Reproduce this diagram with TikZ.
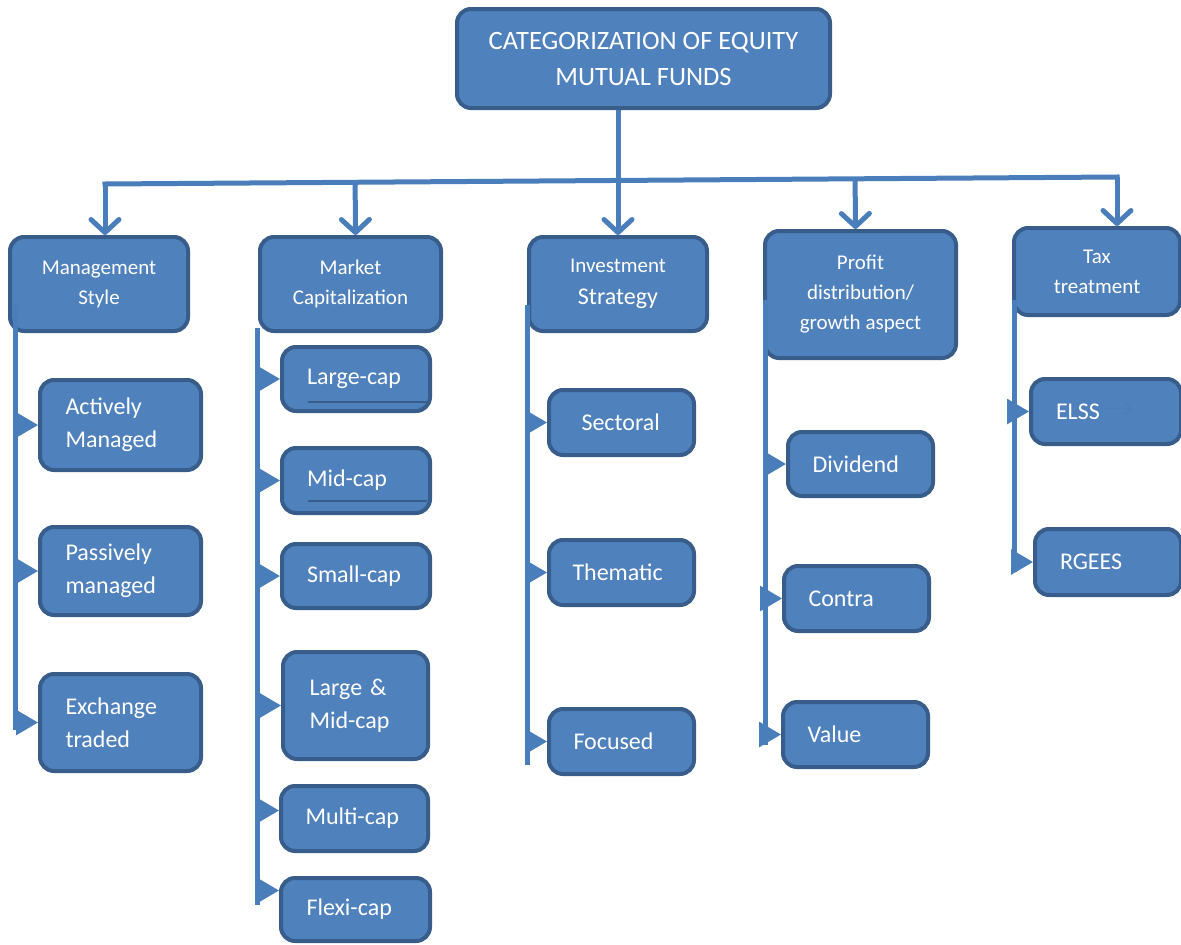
\documentclass[tikz,border=0pt]{standalone}
\usepackage{fontspec}
\setmainfont{Carlito}
\usetikzlibrary{arrows.meta,calc}

\definecolor{boxfill}{HTML}{4F81BD}
\definecolor{boxline}{HTML}{385D8A}
\definecolor{wire}{HTML}{4A7EBB}

\tikzset{
  box/.style={draw=boxline, fill=boxfill, line width=4pt, rounded corners=14pt,
    text=white, inner sep=0pt},
  head/.style={box, align=center, font=\fontsize{21}{30}\selectfont},
  leaf/.style={box, align=left, font=\fontsize{24}{33}\selectfont},
  drop/.style={wire, line width=5pt, -{Straight Barb[length=13pt,width=28pt,round]}},
  spine/.style={wire, line width=5pt},
  tip/.style={wire, line width=3pt, -{Triangle[length=22pt,width=25pt]}},
}

\begin{document}
\begin{tikzpicture}[x=1pt, y=-1pt]
  \useasboundingbox (0,0) rectangle (1181,945);

  % root
  \node[box, align=center, font=\fontsize{26.5}{36}\selectfont,
    minimum width=373pt, minimum height=99pt] (top) at (643.5,58.5)
    {CATEGORIZATION OF EQUITY\\MUTUAL FUNDS};

  % categories
  \node[head, minimum width=178pt, minimum height=94pt] (mgmt) at (99,284)
    {Management\\Style};
  \node[head, minimum width=181pt, minimum height=94pt] (mcap) at (350.5,284)
    {Market\\Capitalization};
  \node[head, minimum width=178pt, minimum height=94pt] (invest) at (618,284)
    {Investment\\[2pt]{\fontsize{24}{30}\selectfont Strategy}};
  \node[head, minimum width=191pt, minimum height=127pt] (profit) at (860.5,294.5)
    {Profit\\distribution/\\growth aspect};
  \node[head, minimum width=166pt, minimum height=87pt] (tax) at (1097,271.5)
    {Tax\\treatment};

  % management style
  \node[leaf, minimum width=161pt, minimum height=90pt, text width=110pt] (active) at (120.5,425)
    {Actively\\Managed};
  \node[leaf, minimum width=161pt, minimum height=88pt, text width=110pt] (passive) at (120.5,571)
    {Passively\\managed};
  \node[leaf, minimum width=161pt, minimum height=97pt, text width=110pt] (exch) at (120.5,722.5)
    {Exchange\\traded};

  % market capitalization
  \node[leaf, minimum width=148pt, minimum height=64pt, text width=98pt] (large) at (356,379)
    {Large-cap};
  \node[leaf, minimum width=148pt, minimum height=65pt, text width=98pt] (mid) at (356,480.5)
    {Mid-cap};
  \node[leaf, minimum width=148pt, minimum height=64pt, text width=98pt] (small) at (356,576)
    {Small-cap};
  \node[leaf, minimum width=145pt, minimum height=107pt, text width=92pt] (lmid) at (355.5,705.5)
    {Large \&\\Mid-cap};
  \node[leaf, minimum width=147pt, minimum height=65pt, text width=98pt] (multi) at (354.5,818.5)
    {Multi-cap};
  \node[leaf, minimum width=149pt, minimum height=63pt, text width=98pt] (flexi) at (355.5,909.5)
    {Flexi-cap};

  % investment strategy
  \node[leaf, minimum width=145pt, minimum height=65pt, text width=80pt] (sect) at (621.5,422.5)
    {Sectoral};
  \node[leaf, minimum width=145pt, minimum height=65pt, text width=98pt] (them) at (621.5,572.5)
    {Thematic};
  \node[leaf, minimum width=145pt, minimum height=65pt, text width=96pt] (focus) at (621.5,741.5)
    {Focused};

  % profit distribution
  \node[leaf, minimum width=145pt, minimum height=64pt, text width=96pt] (div) at (860.5,464)
    {Dividend};
  \node[leaf, minimum width=145pt, minimum height=65pt, text width=96pt] (contra) at (856.5,598.5)
    {Contra};
  \node[leaf, minimum width=145pt, minimum height=65pt, text width=96pt] (value) at (855.5,734.5)
    {Value};

  % tax treatment
  \node[leaf, minimum width=150pt, minimum height=65pt, text width=100pt] (elss) at (1106,411.5)
    {ELSS};
  \node[leaf, minimum width=146pt, minimum height=66pt, text width=96pt] (rgees) at (1108,562)
    {RGEES};

  % stray marks inside boxes
  \draw[boxline, line width=2pt] ([shift={(28,-11)}]large.south west) -- ([shift={(-5,-11)}]large.south east);
  \draw[boxline, line width=2pt] ([shift={(28,-14)}]mid.south west) -- ([shift={(-5,-14)}]mid.south east);
  \draw[wire!80!boxfill, line width=1.5pt, -{Straight Barb[length=6pt,width=12pt]}]
    ([xshift=-2pt,yshift=3pt]elss.center) -- ([xshift=26pt,yshift=3pt]elss.center);

  % bar below the root
  \coordinate (barL) at (105,184);
  \coordinate (barR) at (1117,177);
  \draw[spine, line cap=rect] (barL) -- (barR);

  \coordinate (mgmtin) at ([xshift=6pt]mgmt.north);
  \coordinate (mcapin) at ([xshift=5pt]mcap.north);
  \coordinate (profitin) at ([xshift=-5pt]profit.north);
  \coordinate (taxin) at ([xshift=20pt]tax.north);

  \draw[drop] (top.south -| invest.north) -- (invest.north);
  \path[drop]
  (barL) edge (mgmtin)
  ($(barL)!(mcapin)!(barR)$) edge (mcapin)
  ($(barL)!(profitin)!(barR)$) edge (profitin)
  (barR) edge (taxin);

  % spines
  \coordinate (s1a) at (15,305);   \coordinate (s1b) at (15,730);
  \coordinate (s2a) at (257,328);  \coordinate (s2b) at (257,905);
  \coordinate (s3a) at (527,305);  \coordinate (s3b) at (527,765);
  \coordinate (s4a) at (765,300);  \coordinate (s4b) at (765,745);
  \coordinate (s5a) at (1014,300); \coordinate (s5b) at (1014,572);
  \draw[spine] (s1a) -- (s1b);
  \draw[spine] (s2a) -- (s2b);
  \draw[spine] (s3a) -- (s3b);
  \draw[spine] (s4a) -- (s4b);
  \draw[spine] (s5a) -- (s5b);

  \coordinate (multiin) at ([yshift=8pt]multi.west);
  \coordinate (flexiin) at ([yshift=19pt]flexi.west);

  \path[tip]
  (s1a |- active.west) edge (active.west)
  (s1a |- passive.west) edge (passive.west)
  (s1a |- exch.west) edge (exch.west)
  (s2a |- large.west) edge (large.west)
  (s2a |- mid.west) edge (mid.west)
  (s2a |- small.west) edge (small.west)
  (s2a |- lmid.west) edge (lmid.west)
  (s2a |- multiin) edge (multiin)
  (s2a |- flexiin) edge (flexiin)
  (s3a |- sect.west) edge (sect.west)
  (s3a |- them.west) edge (them.west)
  (s3a |- focus.west) edge (focus.west)
  (s4a |- div.west) edge (div.west)
  (s4a |- contra.west) edge (contra.west)
  (s4a |- value.west) edge (value.west)
  (s5a |- elss.west) edge (elss.west)
  (s5a |- rgees.west) edge (rgees.west);
\end{tikzpicture}
\end{document}
